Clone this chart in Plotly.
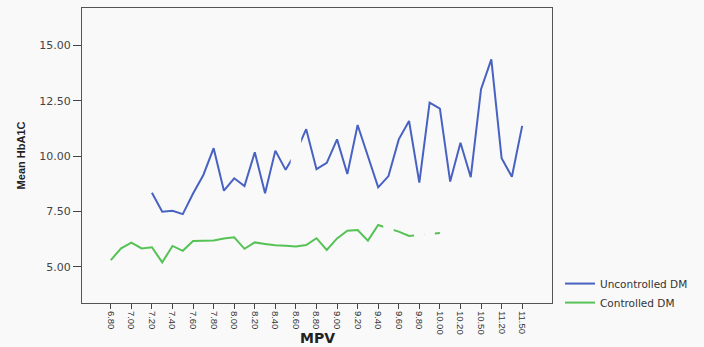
import plotly.graph_objects as go

# MPV categories (every other one is labelled on the axis)
mpv_categories = [
    "6.80", "6.90", "7.00", "7.10", "7.20", "7.30", "7.40", "7.50", "7.60", "7.70",
    "7.80", "7.90", "8.00", "8.10", "8.20", "8.30", "8.40", "8.50", "8.60", "8.70",
    "8.80", "8.90", "9.00", "9.10", "9.20", "9.30", "9.40", "9.50", "9.60", "9.70",
    "9.80", "9.90", "10.00", "10.10", "10.20", "10.40", "10.50", "11.00", "11.20", "11.40",
    "11.50",
]
tick_labels = [
    "6.80", "7.00", "7.20", "7.40", "7.60", "7.80", "8.00", "8.20", "8.40", "8.60",
    "8.80", "9.00", "9.20", "9.40", "9.60", "9.80", "10.00", "10.20", "10.50", "11.20",
    "11.50",
]

# Mean HbA1C per MPV category
uncontrolled_dm = [
    None, None, None, None, 8.35, 7.49, 7.53, 7.38, 8.31, 9.15,
    10.36, 8.44, 9.00, 8.65, 10.18, 8.32, 10.25, 9.38, 10.18, 11.22,
    9.41, 9.70, 10.76, 9.19, 11.41, 10.02, 8.59, 9.10, 10.76, 11.59,
    8.80, 12.42, 12.15, 8.85, 10.61, 9.05, 13.03, 14.38, 9.91, 9.07,
    11.37,
]
controlled_dm = [
    5.30, 5.83, 6.09, 5.83, 5.88, 5.20, 5.94, 5.72, 6.16, 6.18,
    6.19, 6.28, 6.33, 5.81, 6.10, 6.03, 5.97, 5.95, 5.92, 5.98,
    6.29, 5.76, 6.28, 6.63, 6.66, 6.18, 6.89, 6.73, 6.59, 6.39,
    6.43, 6.50, 6.53, None, None, None, None, None, None, None,
    None,
]
# categories where the original chart leaves a small break in the line
uncontrolled_breaks = ["8.60"]
controlled_breaks = ["9.50", "9.80", "9.90"]

y_ticks = [5.0, 7.5, 10.0, 12.5, 15.0]

BG = "#f9f9f9"
BLUE = "#4862c2"
GREEN = "#55c255"

fig = go.Figure()
fig.add_trace(go.Scatter(
    x=mpv_categories, y=uncontrolled_dm, mode="lines", name="Uncontrolled DM",
    line=dict(color=BLUE, width=2), connectgaps=False,
))
fig.add_trace(go.Scatter(
    x=mpv_categories, y=controlled_dm, mode="lines", name="Controlled DM",
    line=dict(color=GREEN, width=2), connectgaps=False,
))

# breaks in the lines, taken from the data values
for series, breaks in ((uncontrolled_dm, uncontrolled_breaks), (controlled_dm, controlled_breaks)):
    bx = list(breaks)
    by = [series[mpv_categories.index(c)] for c in breaks]
    fig.add_trace(go.Scatter(
        x=bx, y=by, mode="markers", showlegend=False, hoverinfo="skip",
        marker=dict(symbol="line-ns", size=30, color=BG,
                    line=dict(color=BG, width=10.5)),
    ))

fig.update_layout(
    width=704, height=347,
    margin=dict(l=82, r=152, t=8, b=44),
    paper_bgcolor=BG, plot_bgcolor=BG,
    font=dict(family="Liberation Sans, Arial, sans-serif", color="#333"),
    showlegend=True,
    legend=dict(
        x=1.017, xanchor="left", y=0.115, yanchor="top",
        bgcolor="rgba(0,0,0,0)", tracegroupgap=0,
        font=dict(family="DejaVu Sans, sans-serif", size=10.5, color="#333"),
    ),
    annotations=[
        dict(text="<b>MPV</b>", xref="paper", yref="paper", x=0.5, y=-0.118,
             xanchor="center", yanchor="middle", showarrow=False,
             font=dict(family="DejaVu Sans, sans-serif", size=14, color="#222")),
        dict(text="<b>Mean HbA1C</b>", xref="paper", yref="paper", x=-0.13, y=0.5,
             xanchor="center", yanchor="middle", showarrow=False, textangle=-90,
             font=dict(family="Liberation Sans, Arial, sans-serif", size=11, color="#222")),
    ],
)
fig.update_xaxes(
    type="category", categoryorder="array", categoryarray=mpv_categories,
    tickmode="array", tickvals=tick_labels, ticktext=tick_labels,
    range=[-2.8, 42.9], tickangle=90, automargin=False,
    ticks="outside", ticklen=5, tickcolor="#444",
    tickfont=dict(family="Liberation Sans, Arial, sans-serif", size=9.5, color="#333"),
    showline=True, linecolor="#555", linewidth=1, mirror=True,
    showgrid=False, zeroline=False,
)
fig.update_yaxes(
    range=[3.36, 16.7], tickmode="array", tickvals=y_ticks,
    ticktext=[f"{v:.2f}" for v in y_ticks], automargin=False,
    ticks="outside", ticklen=8, tickcolor="#444",
    tickfont=dict(family="DejaVu Sans, sans-serif", size=11, color="#444"),
    showline=True, linecolor="#555", linewidth=1, mirror=True,
    showgrid=False, zeroline=False,
)

fig.write_html(
    "out.html",
    config={"displayModeBar": False},
    post_script="document.body.style.margin='0px';document.body.style.background='#f9f9f9';",
)
